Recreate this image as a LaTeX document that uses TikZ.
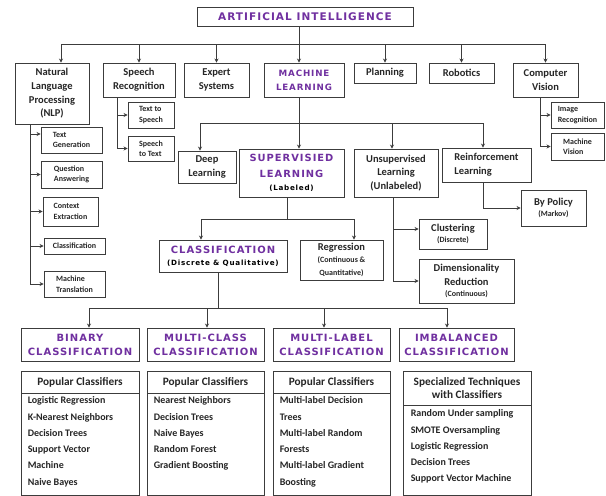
\documentclass[tikz,border=0pt]{standalone}
\usepackage{fontspec}
\setmainfont{Carlito}
\newfontfamily\hfont{DejaVu Sans}[LetterSpace=10]
\usetikzlibrary{arrows.meta}
\definecolor{pur}{RGB}{112,48,160}
\definecolor{lnc}{RGB}{60,60,60}
\newcommand\mkbox[7]{\node[#2, minimum width={(#5-#3)*1pt}, minimum height={(#6-#4)*1pt}] (#1) at ({(#3+#5)/2},{(#4+#6)/2}) {#7};}
\newcommand\smf{\fontsize{8}{9}\selectfont}
\begin{document}
\begin{tikzpicture}[x=1pt,y=-1pt,
  bx/.style={draw=lnc, line width=0.9pt, fill=white, inner sep=1pt, align=center,
    font=\bfseries\fontsize{10.5}{13.7}\selectfont, text=black!85},
  sm/.style={bx, font=\bfseries\fontsize{8}{10.5}\selectfont, align=left},
  hd/.style={bx, font=\hfont\bfseries\fontsize{10}{14}\selectfont, text=pur},
  lh/.style={bx, font=\bfseries\fontsize{11.3}{13.5}\selectfont},
  items/.style={inner sep=0pt, align=left, anchor=north west, text=black!85,
    font=\bfseries\fontsize{10}{16.3}\selectfont},
  arr/.style={-{Stealth[length=4pt,width=4pt]}, line width=1pt, draw=lnc},
  wire/.style={line width=1pt, draw=lnc}]
\useasboundingbox (0,0) rectangle (606,496);
% top
\mkbox{ai}{hd,font=\hfont\bfseries\fontsize{10.5}{14}\selectfont}{197}{7}{413}{26}{ARTIFICIAL INTELLIGENCE}
\mkbox{nlp}{bx}{15}{63}{89}{124}{Natural\\Language\\Processing\\(NLP)}
\mkbox{sr}{bx}{103}{63}{175}{97}{Speech\\Recognition}
\mkbox{es}{bx}{184}{63}{249}{97}{Expert\\Systems}
\mkbox{ml}{hd,font=\hfont\bfseries\fontsize{8.7}{14}\selectfont}{264}{63}{344}{97}{MACHINE\\LEARNING}
\mkbox{pl}{bx}{354}{63}{416}{83}{Planning}
\mkbox{rb}{bx}{429}{63}{494}{83}{Robotics}
\mkbox{cv}{bx}{513}{63}{578}{97}{Computer\\Vision}
% small children
\mkbox{ir}{sm}{551}{102}{604}{128}{Image\\Recognition}
\mkbox{mv}{sm}{551}{133}{604}{160}{Machine\\Vision}
\mkbox{t2s}{sm}{128}{102}{174}{128}{Text to\\Speech}
\mkbox{s2t}{sm}{128}{136}{174}{161}{Speech\\to Text}
\mkbox{tg}{sm}{41}{127}{102}{153}{Text\\Generation}
\mkbox{qa}{sm}{41}{161}{102}{188}{Question\\Answering}
\mkbox{ce}{sm}{43}{197}{98}{226}{Context\\Extraction}
\mkbox{cls}{sm}{44}{238}{105}{254}{Classification}
\mkbox{mt}{sm}{44}{271}{105}{297}{Machine\\Translation}
% ML level
\mkbox{dl}{bx}{178}{151}{236}{183}{Deep\\Learning}
\mkbox{su}{hd,font=\hfont\bfseries\fontsize{9.9}{16}\selectfont}{239}{149}{344}{197}{SUPERVISIED\\LEARNING\\[-3pt]\color{black}\fontsize{7.2}{8}\selectfont(Labeled)}
\mkbox{ul}{bx}{354}{149}{438}{197}{Unsupervised\\Learning\\(Unlabeled)}
\mkbox{rl}{bx,align=left}{442}{148}{531}{182}{Reinforcement\\Learning}
\mkbox{bp}{bx}{521}{190}{586}{226}{By Policy\\[-2pt]\smf(Markov)}
\mkbox{clu}{bx}{419}{219}{487}{249}{Clustering\\[-2pt]\smf(Discrete)}
\mkbox{dr}{bx}{419}{259}{514}{303}{Dimensionality\\Reduction\\[-2pt]\smf(Continuous)}
\mkbox{cla}{hd}{159}{240}{287}{272}{CLASSIFICATION\\[-2pt]\color{black}\fontsize{7.2}{8}\selectfont(Discrete \& Qualitative)}
\mkbox{reg}{bx}{300}{240}{383}{280}{Regression\\[-2pt]\smf(Continuous \&\\[-1pt]\smf Quantitative)}
% bottom headers
\mkbox{bin}{hd}{21}{328}{139}{361}{BINARY\\CLASSIFICATION}
\mkbox{mc}{hd}{147}{328}{264}{361}{MULTI-CLASS\\CLASSIFICATION}
\mkbox{mlab}{hd}{273}{328}{390}{361}{MULTI-LABEL\\CLASSIFICATION}
\mkbox{imb}{hd}{399}{328}{514}{361}{IMBALANCED\\CLASSIFICATION}
% lists
\mkbox{binl}{bx}{21}{393}{139}{495}{}
\mkbox{binh}{lh}{21}{371}{139}{393}{Popular Classifiers}
\mkbox{mcl}{bx}{147}{393}{264}{495}{}
\mkbox{mch}{lh}{147}{371}{264}{393}{Popular Classifiers}
\mkbox{mll}{bx}{273}{393}{390}{495}{}
\mkbox{mlh}{lh}{273}{371}{390}{393}{Popular Classifiers}
\mkbox{iml}{bx}{403}{405}{531}{495}{}
\mkbox{imh}{lh}{403}{371}{531}{405}{Specialized Techniques\\with Classifiers}
\node[items] (bini) at ([xshift=7pt,yshift=-4pt]binl.north west) {Logistic Regression\\K-Nearest Neighbors\\Decision Trees\\Support Vector\\Machine\\Naive Bayes};
\node[items] (mci) at ([xshift=7pt,yshift=-4pt]mcl.north west) {Nearest Neighbors\\Decision Trees\\Naive Bayes\\Random Forest\\Gradient Boosting};
\node[items] (mli) at ([xshift=7pt,yshift=-4pt]mll.north west) {Multi-label Decision\\Trees\\Multi-label Random\\Forests\\Multi-label Gradient\\Boosting};
\node[items] (imi) at ([xshift=8pt,yshift=-5pt]iml.north west) {Random Under sampling\\SMOTE Oversampling\\Logistic Regression\\Decision Trees\\Support Vector Machine};
% connectors: top bus
\coordinate (bus) at (0,44);
\coordinate (aib) at ([xshift=-6pt]ai.south);
\coordinate (nlpt) at ([xshift=9pt]nlp.north);
\coordinate (mlt) at ([xshift=-5pt]ml.north);
\draw[wire] (aib) -- (aib |- bus);
\draw[wire] (nlpt |- bus) -- (cv.north |- bus);
\foreach \t in {nlpt, sr.north, es.north, mlt, pl.north, rb.north, cv.north}
  \draw[arr] (\t |- bus) -- (\t);
% ML bus
\coordinate (bus2) at (0,123);
\coordinate (mlbot) at ([xshift=-5pt]ml.south);
\coordinate (dlt) at ([xshift=-7pt]dl.north);
\coordinate (sut) at ([xshift=7.5pt]su.north);
\coordinate (ult) at ([xshift=-4pt]ul.north);
\coordinate (rlt) at ([xshift=-3.5pt]rl.north);
\draw[wire] (mlbot) -- (mlbot |- bus2);
\draw[wire] (dlt |- bus2) -- (rlt |- bus2);
\foreach \t in {dlt, sut, ult, rlt}
  \draw[arr] (\t |- bus2) -- (\t);
% RL -> by policy
\coordinate (rlb) at ([xshift=-3.5pt]rl.south);
\draw[arr] (rlb) |- (bp.west);
% unsupervised children
\coordinate (ulb) at ([xshift=-3pt]ul.south);
\coordinate (cluw) at ([yshift=5pt]clu.west);
\draw[arr] (ulb) |- (cluw);
\draw[arr] (ulb) |- (dr.west);
% supervised bus
\coordinate (bus3) at (0,219);
\coordinate (sub) at ([xshift=-4.5pt]su.south);
\coordinate (clat) at ([xshift=-22pt]cla.north);
\coordinate (regt) at ([xshift=12.5pt]reg.north);
\draw[wire] (sub) -- (sub |- bus3);
\draw[wire] (clat |- bus3) -- (regt |- bus3);
\foreach \t in {clat, regt}
  \draw[arr] (\t |- bus3) -- (\t);
% classification bus
\coordinate (bus4) at (0,308);
\coordinate (clab) at ([xshift=-5pt]cla.south);
\coordinate (bint) at ([xshift=9pt]bin.north);
\coordinate (mct) at ([xshift=1.5pt]mc.north);
\coordinate (mlabt) at ([xshift=-7.5pt]mlab.north);
\coordinate (imbt) at ([xshift=-9.5pt]imb.north);
\draw[wire] (clab) -- (clab |- bus4);
\draw[wire] (bint |- bus4) -- (imbt |- bus4);
\foreach \t in {bint, mct, mlabt, imbt}
  \draw[arr] (\t |- bus4) -- (\t);
% speech children
\coordinate (srb) at ([xshift=-22pt]sr.south);
\draw[arr] (srb) |- (t2s.west);
\draw[arr] (srb) |- (s2t.west);
% NLP children
\coordinate (nlpb) at ([xshift=-22pt]nlp.south);
\coordinate (tgw) at ([yshift=6pt]tg.west);
\foreach \t in {tgw, qa.west, ce.west, cls.west, mt.west}
  \draw[arr] (nlpb) |- (\t);
% CV children
\coordinate (cvb) at ([xshift=-5.5pt]cv.south);
\draw[arr] (cvb) |- (ir.west);
\draw[arr] (cvb) |- (mv.west);
\end{tikzpicture}
\end{document}
